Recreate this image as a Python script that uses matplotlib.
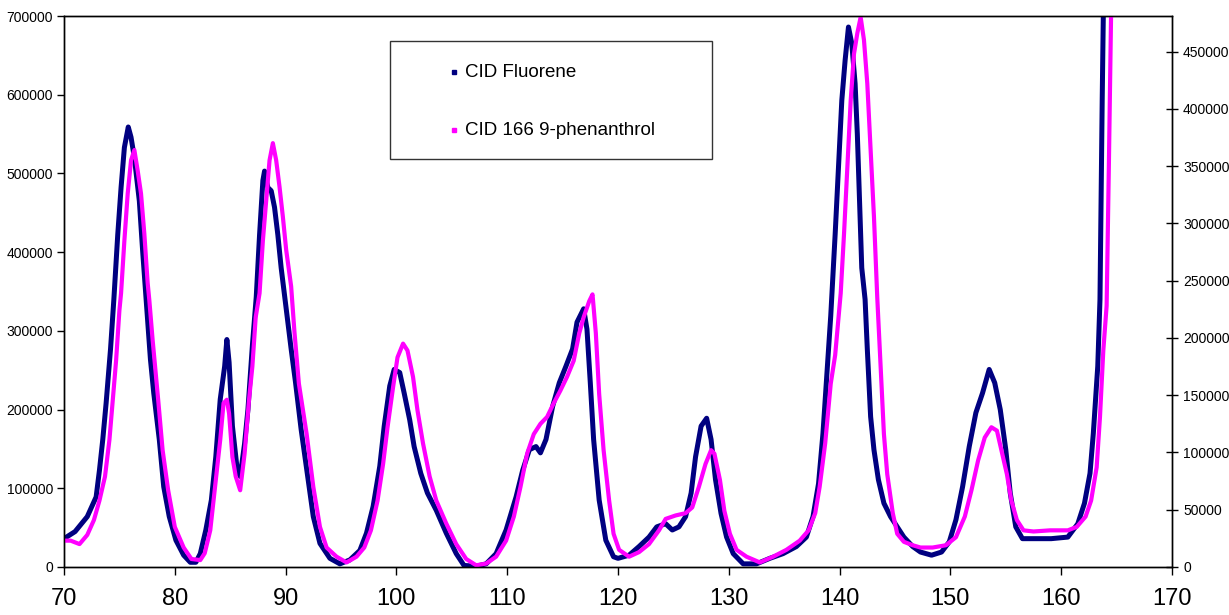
import matplotlib
matplotlib.use("Agg")
import matplotlib.pyplot as plt
from matplotlib.patches import Rectangle

plt.rcParams['font.family'] = ['Liberation Sans', 'DejaVu Sans']

# CID Fluorene (axe gauche)
fluorene_x = [
    70, 71, 72.1, 72.9, 73.2, 73.5, 73.8, 74.2, 74.5, 74.85,
    75.15, 75.45, 75.8, 76.05, 76.35, 76.8, 77.1, 77.4, 77.8, 78.1,
    78.6, 79.0, 79.5, 80.1, 80.8, 81.4, 81.9, 82.3, 82.8, 83.3,
    83.7, 84.1, 84.5, 84.7, 84.9, 85.2, 85.6, 85.9, 86.3, 86.6,
    87.0, 87.35, 87.65, 87.95, 88.1, 88.4, 88.7, 89.0, 89.3, 89.6,
    89.9, 90.5, 90.9, 91.4, 91.9, 92.5, 93.1, 94.0, 94.9, 95.8,
    96.7, 97.3, 97.9, 98.5, 98.9, 99.4, 99.8, 100.3, 100.7, 101.2,
    101.6, 102.2, 102.8, 103.6, 104.5, 105.4, 106.1, 107.2, 108.1, 109.0,
    109.9, 110.8, 111.4, 112.0, 112.6, 113.0, 113.5, 114.1, 114.7, 115.3,
    115.9, 116.3, 116.9, 117.2, 117.5, 117.8, 118.3, 118.9, 119.6, 120.0,
    121.0, 121.9, 122.8, 123.5, 124.3, 124.9, 125.5, 126.1, 126.6, 127.0,
    127.5, 128.0, 128.4, 128.8, 129.3, 129.8, 130.4, 131.3, 132.5, 133.7,
    134.9, 136.1, 137.0, 137.6, 138.1, 138.5, 138.8, 139.2, 139.6, 139.9,
    140.2, 140.5, 140.8, 141.1, 141.4, 141.6, 141.8, 142.0, 142.3, 142.5,
    142.8, 143.1, 143.5, 144.0, 144.6, 145.2, 145.8, 146.6, 147.3, 148.3,
    149.2, 149.9, 150.5, 151.1, 151.7, 152.3, 152.9, 153.5, 154.0, 154.5,
    155.0, 155.4, 155.9, 156.5, 157.6, 159.1, 160.6, 161.5, 162.1, 162.6,
    162.9, 163.3, 163.5, 163.6, 163.7, 163.8, 164.0,
]
fluorene_y = [
    36000, 45000, 64000, 89000, 123000, 162000, 208000, 277000, 340000, 422000,
    482000, 533000, 559000, 546000, 520000, 465000, 401000, 343000, 264000, 221000,
    162000, 102000, 64000, 34000, 15000, 6000, 6000, 17000, 47000, 85000,
    140000, 213000, 255000, 289000, 260000, 179000, 128000, 115000, 157000, 200000,
    281000, 343000, 422000, 491000, 503000, 482000, 478000, 457000, 422000, 380000,
    346000, 277000, 234000, 175000, 125000, 64000, 30000, 11000, 4000, 9000,
    21000, 43000, 77000, 128000, 179000, 230000, 251000, 247000, 221000, 187000,
    153000, 119000, 94000, 72000, 43000, 17000, 2000, 1000, 4000, 17000,
    47000, 89000, 123000, 149000, 153000, 145000, 162000, 204000, 234000, 255000,
    277000, 311000, 328000, 302000, 234000, 162000, 85000, 34000, 13000, 11000,
    15000, 26000, 38000, 51000, 55000, 47000, 51000, 64000, 94000, 140000,
    179000, 189000, 162000, 111000, 68000, 38000, 17000, 4000, 4000, 11000,
    17000, 26000, 38000, 64000, 106000, 170000, 234000, 319000, 423000, 508000,
    593000, 644000, 686000, 665000, 614000, 550000, 465000, 380000, 340000, 277000,
    191000, 149000, 111000, 81000, 64000, 51000, 38000, 26000, 19000, 15000,
    19000, 32000, 60000, 102000, 153000, 196000, 221000, 251000, 234000, 200000,
    149000, 94000, 51000, 36000, 36000, 36000, 38000, 55000, 81000, 119000,
    170000, 255000, 340000, 466000, 593000, 700000, 800000,
]

# CID 166 9-phenanthrol (axe droit)
phen_x = [
    70, 70.6, 71.4, 72.1, 72.7, 73.2, 73.7, 74.1, 74.4, 74.7,
    75.0, 75.15, 75.45, 75.75, 76.05, 76.35, 76.65, 76.95, 77.25, 77.55,
    77.7, 78.0, 78.5, 78.9, 79.4, 80.0, 80.8, 81.5, 82.3, 82.7,
    83.2, 83.6, 84.1, 84.4, 84.7, 84.9, 85.2, 85.5, 85.9, 86.3,
    86.7, 87.0, 87.3, 87.65, 87.95, 88.25, 88.55, 88.85, 89.15, 89.45,
    89.75, 90.05, 90.5, 90.8, 91.2, 91.9, 92.5, 93.1, 93.7, 94.6,
    95.5, 96.4, 97.1, 97.7, 98.3, 98.8, 99.2, 99.7, 100.1, 100.6,
    101.0, 101.5, 101.9, 102.4, 103.0, 103.6, 104.5, 105.4, 106.3, 107.2,
    108.1, 109.0, 109.9, 110.6, 111.2, 111.8, 112.4, 113.0, 113.6, 114.2,
    114.8, 115.4, 116.0, 116.5, 116.9, 117.4, 117.7, 118.0, 118.3, 118.7,
    119.2, 119.6, 120.1, 121.0, 121.9, 122.8, 123.7, 124.3, 125.2, 126.1,
    126.7, 127.3, 127.9, 128.4, 128.7, 129.2, 129.6, 130.1, 130.7, 131.6,
    132.8, 134.0, 135.2, 136.4, 137.2, 137.8, 138.2, 138.7, 139.2, 139.6,
    140.1, 140.4, 140.7, 141.0, 141.3, 141.6, 141.9, 142.2, 142.5, 142.8,
    143.1, 143.4, 143.7, 144.0, 144.3, 144.8, 145.2, 145.8, 146.6, 147.3,
    148.4, 149.6, 150.5, 151.3, 151.9, 152.5, 153.1, 153.7, 154.2, 154.6,
    155.1, 155.5, 156.0, 156.6, 157.5, 159.0, 160.6, 161.4, 162.2, 162.7,
    163.2, 163.5, 163.8, 164.1, 164.3, 164.5, 164.7,
]
phen_y = [
    23000, 23000, 20000, 28000, 41000, 58000, 79000, 111000, 146000, 180000,
    224000, 239000, 285000, 326000, 355000, 364000, 346000, 326000, 291000, 248000,
    233000, 198000, 146000, 102000, 67000, 35000, 17000, 7000, 6000, 12000,
    32000, 67000, 111000, 143000, 146000, 134000, 96000, 79000, 67000, 99000,
    146000, 175000, 218000, 239000, 285000, 320000, 355000, 370000, 355000, 332000,
    306000, 277000, 245000, 205000, 160000, 116000, 70000, 35000, 17000, 9000,
    4000, 9000, 17000, 32000, 58000, 90000, 122000, 157000, 183000, 195000,
    189000, 166000, 137000, 108000, 79000, 58000, 38000, 20000, 7000, 1500,
    3000, 9000, 23000, 44000, 70000, 99000, 116000, 125000, 131000, 143000,
    154000, 166000, 180000, 204000, 218000, 232000, 238000, 204000, 151000, 102000,
    58000, 29000, 15000, 9000, 13000, 20000, 32000, 42000, 45000, 47000,
    52000, 70000, 90000, 102000, 99000, 76000, 49000, 29000, 15000, 9000,
    4000, 9000, 15000, 23000, 32000, 47000, 70000, 108000, 160000, 185000,
    239000, 291000, 349000, 407000, 448000, 466000, 480000, 460000, 422000, 364000,
    306000, 235000, 175000, 116000, 81000, 47000, 29000, 22000, 19000, 17000,
    17000, 19000, 26000, 44000, 67000, 93000, 113000, 122000, 119000, 102000,
    81000, 58000, 41000, 32000, 31000, 32000, 32000, 35000, 44000, 58000,
    87000, 131000, 189000, 228000, 349000, 481000, 560000,
]

left_ticks = [0, 100000, 200000, 300000, 400000, 500000, 600000, 700000]
right_ticks = [0, 50000, 100000, 150000, 200000, 250000, 300000, 350000, 400000, 450000]
x_ticks = [70, 80, 90, 100, 110, 120, 130, 140, 150, 160, 170]

navy = "#000080"
magenta = "#FF00FF"

fig = plt.figure(figsize=(12.29, 6.15), dpi=100)
ax = fig.add_axes([64 / 1229, 48 / 615, 1108 / 1229, 551 / 615])
ax2 = ax.twinx()

ax.plot(fluorene_x, fluorene_y, color=navy, lw=3.6,
        solid_capstyle="round", solid_joinstyle="round")
ax2.plot(phen_x, phen_y, color=magenta, lw=3.0,
         solid_capstyle="round", solid_joinstyle="round")

ax.set_xlim(70, 170)
ax.set_ylim(0, 700000)
ax2.set_ylim(0, 481000)
ax.set_xticks(x_ticks)
ax.set_yticks(left_ticks)
ax2.set_yticks(right_ticks)
ax.set_yticklabels([str(v) for v in left_ticks])
ax2.set_yticklabels([str(v) for v in right_ticks])

ax.tick_params(axis="x", direction="out", length=6, width=1, labelsize=17, pad=9)
ax.tick_params(axis="y", direction="out", length=5, width=1, labelsize=10, pad=3)
ax2.tick_params(axis="y", direction="inout", length=8, width=1, labelsize=10, pad=4)

for a in (ax, ax2):
    for sp in a.spines.values():
        sp.set_color("black")
        sp.set_linewidth(1.0)

# légende dessinée à la main (cadre + points + textes)
ax2.add_patch(Rectangle((0.294, 0.740), 0.291, 0.215, transform=ax2.transAxes,
                        fill=True, facecolor="white", edgecolor="#333333", lw=1.0, zorder=5))
ax2.plot([0.352], [0.898], marker="s", ms=2.2, color=navy, transform=ax2.transAxes, zorder=6)
ax2.plot([0.352], [0.793], marker="s", ms=2.2, color=magenta, transform=ax2.transAxes, zorder=6)
ax2.text(0.362, 0.898, "CID Fluorene", transform=ax2.transAxes, fontsize=13.5,
         va="center", ha="left", zorder=6)
ax2.text(0.362, 0.793, "CID 166 9-phenanthrol", transform=ax2.transAxes, fontsize=13.5,
         va="center", ha="left", zorder=6)

fig.savefig("out.png", dpi=100)
